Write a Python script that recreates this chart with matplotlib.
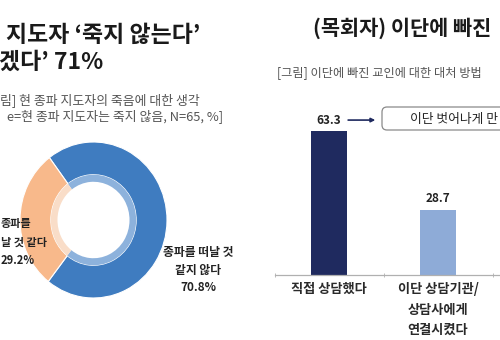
import matplotlib
matplotlib.use("Agg")
import matplotlib.pyplot as plt
from matplotlib.patches import FancyBboxPatch
from matplotlib.transforms import Affine2D

plt.rcParams["font.family"] = ["Noto Sans CJK KR", "DejaVu Sans"]

# left: donut (the reference is cropped, only the visible parts of the texts are kept)
donut_values = [70.8, 29.2]
donut_colors = ["#3f7cc0", "#f8b98b"]
donut_inner = ["#8db2dc", "#f9ddc8"]
label_right = "종파를 떠날 것\n같지 않다\n70.8%"
label_left = ["종파를", "날 것 같다", "29.2%"]

# right: bars
bar_labels = ["직접 상담했다", "이단 상담기관/\n상담사에게\n연결시켰다"]
bar_values = [63.3, 28.7]
bar_colors = ["#1f2a5f", "#8eabd7"]

W, H = 500, 340
fig = plt.figure(figsize=(5, 3.4), dpi=100)
px = Affine2D().scale(1 / W, -1 / H).translate(0, 1) + fig.transFigure


def box(x0, y0, x1, y1):
    return [x0 / W, 1 - y1 / H, (x1 - x0) / W, (y1 - y0) / H]


# ---- left panel texts
fig.text(200, 35, "지도자 \u2018죽지 않는다\u2019", transform=px, ha="right", va="center",
         fontsize=16.5, fontweight="bold", color="#1a1a1a")
fig.text(103, 62, "겠다\u2019 71%", transform=px, ha="right", va="center",
         fontsize=16.5, fontweight="bold", color="#1a1a1a")
fig.text(200, 100, "림] 현 종파 지도자의 죽음에 대한 생각", transform=px, ha="right", va="center",
         fontsize=9.3, color="#555555")
fig.text(223, 116, "e=현 종파 지도자는 죽지 않음, N=65, %]", transform=px, ha="right", va="center",
         fontsize=9.3, color="#555555")

ax1 = fig.add_axes(box(20, 142, 167, 298))
ax1.pie(donut_values, colors=donut_colors, startangle=232, counterclock=True, radius=1,
        wedgeprops=dict(width=0.42, edgecolor="white", linewidth=0.8))
ax1.pie(donut_values, colors=donut_inner, startangle=232, counterclock=True, radius=0.58,
        wedgeprops=dict(width=0.09, edgecolor="none"))
ax1.set_aspect("auto")
ax1.set_xlim(-1, 1)
ax1.set_ylim(-1, 1)
ax1.axis("off")

fig.text(198, 270, label_right, transform=px, ha="center", va="center", fontsize=8.5,
         fontweight="bold", color="#222222", linespacing=1.45)
for txt, yc in zip(label_left, [223, 242, 260]):
    fig.text(1, yc, txt, transform=px, ha="left", va="center", fontsize=8,
             fontweight="bold", color="#222222")

# ---- right panel
fig.text(313, 28, "(목회자) 이단에 빠진", transform=px, ha="left", va="center",
         fontsize=15, fontweight="bold", color="#1a1a1a")
fig.text(277, 73, "[그림] 이단에 빠진 교인에 대한 대처 방법", transform=px,
         ha="left", va="center", fontsize=8.8, color="#555555")

ax2 = fig.add_axes(box(274.5, 100, 500, 275))
x = range(len(bar_values))
ax2.bar(x, bar_values, width=0.33, color=bar_colors)
ax2.set_xlim(-0.5, -0.5 + 225.5 / 109)
ax2.set_ylim(0, 175 / 2.275)
for i, v in enumerate(bar_values):
    ax2.text(i, v + 4.8, f"{v:.1f}", ha="center", va="center", fontsize=8.5,
             fontweight="bold", color="#222222")
for s in ["top", "right", "left"]:
    ax2.spines[s].set_visible(False)
ax2.spines["bottom"].set_color("#b0b0b0")
ax2.spines["bottom"].set_linewidth(0.9)
ax2.set_yticks([])
ax2.set_xticks(list(x))
ax2.set_xticklabels(bar_labels, fontsize=9.5, fontweight="bold", color="#2a2a2a",
                    linespacing=1.6, va="top")
ax2.tick_params(axis="x", which="major", length=0, pad=5)
ax2.set_xticks([-0.5, 0.5, 1.5], minor=True)
ax2.tick_params(axis="x", which="minor", length=3, direction="inout", color="#b0b0b0")

# callout arrow + box
ax2.annotate("", xy=(0.45, bar_values[0] + 4.8), xytext=(0.15, bar_values[0] + 4.8),
             arrowprops=dict(arrowstyle="-|>", color="#1f2a5f", lw=1.2, mutation_scale=6),
             annotation_clip=False)
fig.patches.append(FancyBboxPatch((382, 107), 260, 23, boxstyle="round,pad=0,rounding_size=5",
                                  transform=px, facecolor="white", edgecolor="#8a8a8a", lw=0.9))
fig.text(410, 119, "이단 벗어나게 만", transform=px, ha="left", va="center",
         fontsize=9.2, color="#222222")

fig.savefig("out.png", dpi=100)
